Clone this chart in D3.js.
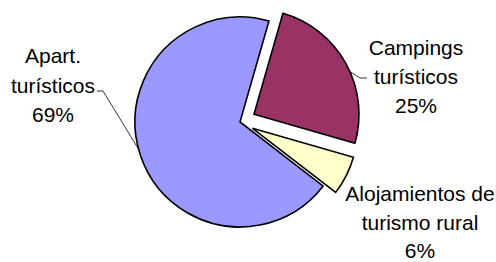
<!DOCTYPE html>
<html>
<head>
<meta charset="utf-8">
<script src="https://cdn.jsdelivr.net/npm/d3@7"></script>
<style>
  body { margin: 0; background: #fff; }
  svg { display: block; }
  text { font-family: "Liberation Sans", Arial, sans-serif; font-size: 21px; fill: #000; }
</style>
</head>
<body>
<div id="chart"></div>
<script>
const width = 496, height = 262,
    cx = 240, cy = 122, radius = 105,
    start_deg = 16

// data
const categories = ["Campings turísticos", "Alojamientos de turismo rural", "Apart. turísticos"]
const values = [25, 6, 69]
const colors = ["#993366", "#FFFFCC", "#9999FF"]
const explode = [16, 14, 0]

// label layout (center x, first baseline y, line step, text lines)
const label_lines = [
    ["Campings", "turísticos", "25%"],
    ["Alojamientos de", "turismo rural", "6%"],
    ["Apart.", "turísticos", "69%"],
]
const label_pos = [[416, 55, 29], [420, 201, 28.5], [53, 63, 29.5]]
// leader: angle on the slice edge (deg), elbow point, end point
const leaders = [
    {deg: 66, elbow: [360, 78], end: [367, 78]},
    null,
    {deg: 255, elbow: [103, 91], end: [97, 91]},
]

const rad = d => d * Math.PI / 180

const svg = d3.select("#chart")
    .append("svg")
    .attr("width", width)
    .attr("height", height)

const pie = d3.pie()
    .sort(null)
    .startAngle(rad(start_deg))
    .endAngle(rad(start_deg) + 2 * Math.PI)

const arcs = pie(values)

const arc = d3.arc()
    .innerRadius(0)
    .outerRadius(radius)

const g = svg.append("g")
    .attr("transform", "translate(" + cx + "," + cy + ")")

function offset(d, i) {
    let a = (d.startAngle + d.endAngle) / 2
    return d3.pointRadial(a, explode[i])
}

g.selectAll("path")
    .data(arcs)
    .enter()
    .append("path")
    .attr("d", arc)
    .attr("transform", (d, i) => {
        let p = offset(d, i)
        return "translate(" + p[0] + "," + p[1] + ")"
    })
    .attr("fill", (d, i) => colors[i])
    .attr("stroke", "#000")
    .attr("stroke-width", 1.6)
    .attr("stroke-linejoin", "miter")

// leader lines
arcs.forEach((d, i) => {
    let l = leaders[i]
    if (!l) return
    let o = offset(d, i)
    let p = d3.pointRadial(rad(l.deg), radius)
    let pts = [[cx + o[0] + p[0], cy + o[1] + p[1]], l.elbow, l.end]
    svg.append("path")
        .attr("d", d3.line()(pts))
        .attr("fill", "none")
        .attr("stroke", "#000")
        .attr("stroke-width", 0.8)
})

// labels
const labels = svg.selectAll("text.lbl")
    .data(arcs)
    .enter()
    .append("text")
    .attr("class", "lbl")
    .attr("text-anchor", "middle")

labels.each(function (d, i) {
    let t = d3.select(this)
    let [x, y, step] = label_pos[i]
    label_lines[i].forEach((s, k) => {
        t.append("tspan")
            .attr("x", x)
            .attr("y", y + k * step)
            .text(s)
    })
})
</script>
</body>
</html>
